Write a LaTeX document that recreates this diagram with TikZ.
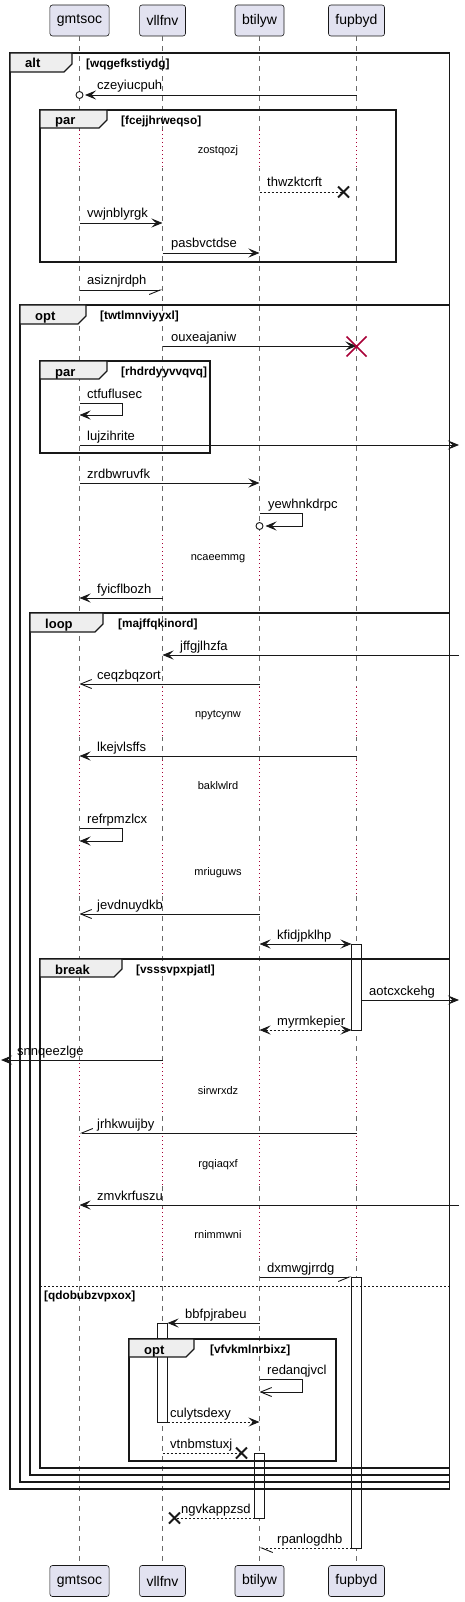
\documentclass[tikz,border=0pt]{standalone}
\usepackage{fontspec}
\setmainfont{Liberation Sans}
\usetikzlibrary{arrows.meta}

\definecolor{partfill}{HTML}{E2E2F0}
\definecolor{lineclr}{HTML}{181818}
\definecolor{delayclr}{HTML}{A80036}
\definecolor{tabfill}{HTML}{EEEEEE}

\tikzset{
  part/.style={draw=lineclr, fill=partfill, rounded corners=2.5pt, line width=0.6pt,
    minimum height=31pt, inner xsep=7pt, font=\fontsize{14}{16}\selectfont},
  lifeline/.style={draw=lineclr!65, line width=0.6pt, dash pattern=on 5pt off 5pt},
  delayline/.style={draw=delayclr, line width=0.8pt, dash pattern=on 1pt off 3pt},
  act/.style={draw=lineclr, fill=white, line width=0.8pt},
  frame/.style={draw=lineclr, line width=1.5pt},
  tab/.style={draw=lineclr, fill=tabfill, line width=1.2pt},
  kwd/.style={anchor=base west, inner sep=0pt, font=\bfseries\fontsize{13}{15}\selectfont},
  cond/.style={anchor=base west, inner sep=0pt, font=\bfseries\fontsize{11.8}{14}\selectfont},
  lbl/.style={anchor=base west, inner sep=0pt, font=\fontsize{13}{15}\selectfont},
  dlbl/.style={anchor=base, inner sep=0pt, font=\fontsize{11}{13}\selectfont},
  msg/.style={draw=lineclr, line width=0.9pt, -{Stealth[length=11pt,width=9pt,inset=4.5pt]}},
  both/.style={msg, {Stealth[length=11pt,width=9pt,inset=4.5pt]}-{Stealth[length=11pt,width=9pt,inset=4.5pt]}},
  open/.style={draw=lineclr, line width=0.9pt, -{Straight Barb[length=11pt,width=9pt]}},
  halfR/.style={draw=lineclr, line width=0.9pt, -{Straight Barb[length=11pt,width=9pt,right]}},
  halfL/.style={draw=lineclr, line width=0.9pt, -{Straight Barb[length=11pt,width=9pt,left]}},
  dsh/.style={dash pattern=on 2pt off 2pt},
  xmark/.style={draw=lineclr, line width=2pt},
  kill/.style={draw=delayclr, line width=1.5pt},
  ring/.style={draw=lineclr, fill=white, line width=0.9pt}
}

\begin{document}
\begin{tikzpicture}[x=1pt, y=-1pt]
\useasboundingbox (0,0) rectangle (464,1602);

\node[part] (gmt) at (79.5,20.5) {gmtsoc};
\node[part] (vll) at (162.5,20.5) {vllfnv};
\node[part] (bti) at (259.5,20.5) {btilyw};
\node[part] (fup) at (356.5,20.5) {fupbyd};
\node[part] (gmt-b) at (79.5,1581) {gmtsoc};
\node[part] (vll-b) at (162.5,1581) {vllfnv};
\node[part] (bti-b) at (259.5,1581) {btilyw};
\node[part] (fup-b) at (356.5,1581) {fupbyd};

\coordinate (rim) at (459,0);
\coordinate (lrim) at (1,0);
\coordinate (fupL) at (351.5,0);
\coordinate (fupR) at (361.5,0);
\coordinate (vllR) at (167.5,0);
\coordinate (btiL) at (254.5,0);

\foreach \p in {gmt,vll,bti,fup}
  \draw[lifeline] (\p.south) -- (\p-b.north);

% delays
\foreach \ya/\yb in {130/168, 535/580, 687/737, 760/808, 845/894, 1063/1114, 1136/1186, 1208/1258}
  \foreach \p in {gmt,vll,bti,fup} {
    \draw[white, line width=2pt] (\p |- 0,\ya) -- (\p |- 0,\yb);
    \draw[delayline] (\p |- 0,\ya) -- (\p |- 0,\yb);
  }
\node[dlbl] (zostqozj) at (218,154) {zostqozj};
\node[dlbl] (ncaeemmg) at (218,560) {ncaeemmg};
\node[dlbl] (npytcynw) at (218,717) {npytcynw};
\node[dlbl] (baklwlrd) at (218,789) {baklwlrd};
\node[dlbl] (mriuguws) at (218,875) {mriuguws};
\node[dlbl] (sirwrxdz) at (218,1094) {sirwrxdz};
\node[dlbl] (rgqiaqxf) at (218,1167) {rgqiaqxf};
\node[dlbl] (rnimmwni) at (218,1238) {rnimmwni};

% activations
\draw[act] (351.5,944) rectangle (361.5,1030);
\draw[act] (351.5,1277) rectangle (361.5,1548);
\draw[act] (157.5,1323) rectangle (167.5,1422);
\draw[act] (254.5,1453) rectangle (264.5,1518);

% frames
\foreach \xa/\ya/\xb/\yb/\tr/\tb/\kw/\cx/\cond in {
    10/53/449.5/1489/72/72/alt/86/wqgefkstiydg,
    40/110/396/262/107/128/par/121/fcejjhrweqso,
    20/305/449.5/1482/86/324/opt/100/twtlmnviyyxl,
    40/361/210/453/107/379/par/121/rhdrdyyvvqvq,
    30/613/449.5/1475/103/632/loop/118/majffqkinord,
    40/959/449.5/1468/122/977/break/136/vsssvpxpjatl,
    129/1339/336/1461/194/1357/opt/210/vfvkmlnrbixz} {
  \draw[frame] (\xa,\ya) rectangle (\xb,\yb);
  \filldraw[tab] (\xa,\ya) -- (\tr,\ya) -- (\tr,\tb-8) -- (\tr-8,\tb) -- (\xa,\tb) -- cycle;
  \node[kwd] (kw-\cond) at (\xa+15,\ya+15) {\kw};
  \node[cond] (c-\cond) at (\cx,\ya+14.5) {[\cond]};
}
\draw[draw=lineclr, line width=0.8pt, dash pattern=on 2pt off 2pt] (40,1286) -- (449.5,1286);
\node[cond] (c-qdobubzvpxox) at (44,1299) {[qdobubzvpxox]};

% messages
\draw[msg] (fup |- 0,95) -- (85,95);
\filldraw[ring] (gmt |- 0,95) circle (3.5);
\node[lbl] (czeyiucpuh) at (97,90) {czeyiucpuh};

\draw[draw=lineclr, line width=0.9pt, dsh] (bti |- 0,192) -- (343.5,192);
\draw[xmark] (338,186.5) -- (349,197.5) (338,197.5) -- (349,186.5);
\node[lbl] (thwzktcrft) at (267,187) {thwzktcrft};

\draw[msg] (gmt |- 0,223) -- (vll |- 0,223);
\node[lbl] (vwjnblyrgk) at (87,218) {vwjnblyrgk};
\draw[msg] (vll |- 0,253) -- (bti |- 0,253);
\node[lbl] (pasbvctdse) at (171,248) {pasbvctdse};

\draw[halfR] (gmt |- 0,290) -- (vll |- 0,290);
\node[lbl] (asiznjrdph) at (87,285) {asiznjrdph};

\draw[msg] (vll |- 0,346) -- (fup |- 0,346);
\draw[kill] (346.5,336.5) -- (366.5,356.5) (346.5,356.5) -- (366.5,336.5);
\node[lbl] (ouxeajaniw) at (171,341) {ouxeajaniw};

\draw[msg] (gmt |- 0,403) -- (122,403) -- (122,415) -- (gmt |- 0,415);
\node[lbl] (ctfuflusec) at (87,398) {ctfuflusec};
\draw[msg] (gmt |- 0,445) -- (rim |- 0,445);
\node[lbl] (lujzihrite) at (87,440) {lujzihrite};
\draw[msg] (gmt |- 0,483) -- (bti |- 0,483);
\node[lbl] (zrdbwruvfk) at (87,478) {zrdbwruvfk};

\draw[msg] (bti |- 0,513) -- (302,513) -- (302,526) -- (265.5,526);
\filldraw[ring] (bti |- 0,526) circle (3.5);
\node[lbl] (yewhnkdrpc) at (268,508) {yewhnkdrpc};

\draw[msg] (vll |- 0,598) -- (gmt |- 0,598);
\node[lbl] (fyicflbozh) at (97,593) {fyicflbozh};
\draw[msg] (rim |- 0,655) -- (vll |- 0,655);
\node[lbl] (jffgjlhzfa) at (180,650) {jffgjlhzfa};
\draw[open] (bti |- 0,684) -- (gmt |- 0,684);
\node[lbl] (ceqzbqzort) at (97,679) {ceqzbqzort};
\draw[msg] (fup |- 0,756) -- (gmt |- 0,756);
\node[lbl] (lkejvlsffs) at (97,751) {lkejvlsffs};
\draw[msg] (gmt |- 0,828) -- (122,828) -- (122,841) -- (gmt |- 0,841);
\node[lbl] (refrpmzlcx) at (87,823) {refrpmzlcx};
\draw[open] (bti |- 0,914) -- (gmt |- 0,914);
\node[lbl] (jevdnuydkb) at (97,909) {jevdnuydkb};

\draw[both] (bti |- 0,944) -- (fupL |- 0,944);
\node[lbl] (kfidjpklhp) at (277,939) {kfidjpklhp};
\draw[msg] (fupR |- 0,1000) -- (rim |- 0,1000);
\node[lbl] (aotcxckehg) at (369,995) {aotcxckehg};
\draw[both, dsh] (bti |- 0,1030) -- (fupL |- 0,1030);
\node[lbl] (myrmkepier) at (277,1025) {myrmkepier};
\draw[msg] (vll |- 0,1060) -- (lrim |- 0,1060);
\node[lbl] (snnqeezlge) at (17,1055) {snnqeezlge};
\draw[halfR] (fup |- 0,1133) -- (gmt |- 0,1133);
\node[lbl] (jrhkwuijby) at (97,1128) {jrhkwuijby};
\draw[msg] (rim |- 0,1205) -- (gmt |- 0,1205);
\node[lbl] (zmvkrfuszu) at (97,1200) {zmvkrfuszu};
\draw[halfR] (bti |- 0,1277) -- (fupL |- 0,1277);
\node[lbl] (dxmwgjrrdg) at (267,1272) {dxmwgjrrdg};

\draw[msg] (bti |- 0,1323) -- (vllR |- 0,1323);
\node[lbl] (bbfpjrabeu) at (185,1318) {bbfpjrabeu};
\draw[open] (bti |- 0,1379) -- (302,1379) -- (302,1392) -- (bti |- 0,1392);
\node[lbl] (redanqjvcl) at (267,1374) {redanqjvcl};
\draw[msg, dsh] (vllR |- 0,1422) -- (bti |- 0,1422);
\node[lbl] (culytsdexy) at (170,1417) {culytsdexy};
\draw[draw=lineclr, line width=0.9pt, dsh] (vll |- 0,1453) -- (241.5,1453);
\draw[xmark] (236,1447.5) -- (247,1458.5) (236,1458.5) -- (247,1447.5);
\node[lbl] (vtnbmstuxj) at (170,1448) {vtnbmstuxj};
\draw[draw=lineclr, line width=0.9pt, dsh] (btiL |- 0,1518) -- (174.5,1518);
\draw[xmark] (169,1512.5) -- (180,1523.5) (169,1523.5) -- (180,1512.5);
\node[lbl] (ngvkappzsd) at (181,1513) {ngvkappzsd};
\draw[halfL, dsh] (fupL |- 0,1548) -- (bti |- 0,1548);
\node[lbl] (rpanlogdhb) at (277,1543) {rpanlogdhb};
\end{tikzpicture}
\end{document}
